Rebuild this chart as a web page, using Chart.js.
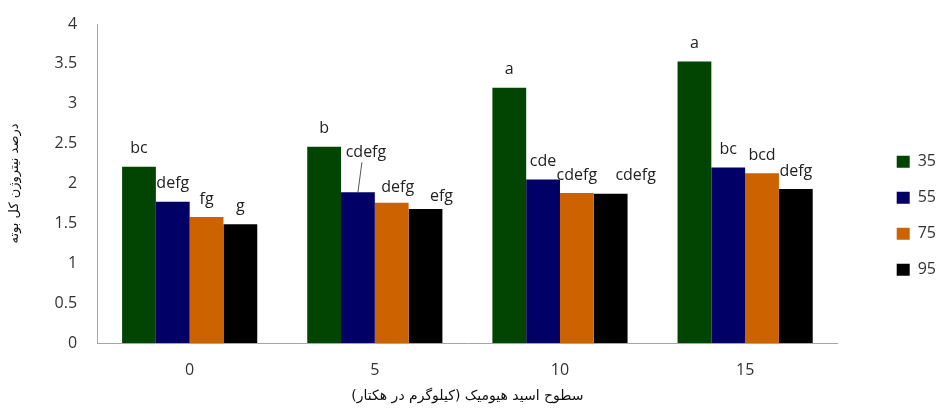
<!DOCTYPE html>
<html>
<head>
<meta charset="utf-8">
<script src="https://cdn.jsdelivr.net/npm/chart.js@4.4.1/dist/chart.umd.min.js"></script>
<style>
  html, body { margin: 0; padding: 0; background: #fff; }
  #wrap { width: 939px; height: 410px; }
</style>
</head>
<body>
<div id="wrap"><canvas id="grafico"></canvas></div>
<script>
const categorias = ["0", "5", "10", "15"];
const series = ["35", "55", "75", "95"];

const valores35 = [2.21, 2.46, 3.20, 3.53];
const valores55 = [1.77, 1.89, 2.05, 2.20];
const valores75 = [1.58, 1.76, 1.88, 2.13];
const valores95 = [1.49, 1.68, 1.87, 1.93];

const letras35 = ["bc", "b", "a", "a"];
const letras55 = ["defg", "cdefg", "cde", "bc"];
const letras75 = ["fg", "defg", "cdefg", "bcd"];
const letras95 = ["g", "efg", "cdefg", "defg"];

const ticksY = [0, 0.5, 1, 1.5, 2, 2.5, 3, 3.5, 4];

const colores = ["#024402", "#000066", "#cc6200", "#000000"];
const tituloY = "درصد نیتروژن کل بوته";
const tituloX = "سطوح اسید هیومیک (کیلوگرم در هکتار)\u200F";

// a few letters sit off-centre in the original (dx, dy in px)
const desplazamientos = {
  "1-1": [8, -22, true],
  "2-1": [6, 3],
  "3-1": [16, 5],
  "3-2": [25, 0]
};

const letras = [letras35, letras55, letras75, letras95];

const pluginLetras = {
  id: "letras",
  afterDatasetsDraw(chart) {
    const ctx = chart.ctx;
    ctx.save();
    ctx.font = "16px 'Open Sans', 'DejaVu Sans', sans-serif";
    ctx.fillStyle = "#222";
    ctx.textAlign = "center";
    ctx.textBaseline = "middle";
    chart.data.datasets.forEach((ds, i) => {
      chart.getDatasetMeta(i).data.forEach((bar, j) => {
        const off = desplazamientos[i + "-" + j] || [0, 0];
        const x = bar.x + off[0];
        const y = bar.y - 18 + off[1];
        ctx.fillText(letras[i][j], x, y);
        if (off[2]) {
          ctx.strokeStyle = "#555";
          ctx.lineWidth = 1;
          ctx.beginPath();
          ctx.moveTo(x - 4, y + 10);
          ctx.lineTo(bar.x, bar.y);
          ctx.stroke();
        }
      });
    });
    ctx.restore();
  }
};

const datos = {
  labels: categorias,
  datasets: [valores35, valores55, valores75, valores95].map((v, i) => ({
    label: series[i],
    data: v,
    backgroundColor: colores[i],
    borderWidth: 0,
    barPercentage: 1,
    categoryPercentage: 0.73
  }))
};

const fuenteEje = { family: "'Open Sans', 'DejaVu Sans', sans-serif", size: 16 };

new Chart(document.getElementById("grafico"), {
  type: "bar",
  data: datos,
  plugins: [pluginLetras],
  options: {
    responsive: true,
    maintainAspectRatio: false,
    animation: false,
    layout: { padding: { top: 24, left: 7, right: -7, bottom: 5 } },
    plugins: {
      tooltip: { enabled: false },
      legend: {
        position: "right",
        title: { display: true, text: " ", font: { size: 2 }, padding: 0 },
        labels: {
          boxWidth: 13,
          boxHeight: 12,
          padding: 20,
          color: "#333",
          font: fuenteEje
        }
      }
    },
    scales: {
      x: {
        grid: { display: false, drawTicks: false },
        border: { display: true, color: "#a6a6a6", width: 1 },
        ticks: { color: "#333", font: fuenteEje, padding: 18 },
        title: {
          display: true,
          text: tituloX,
          color: "#111",
          font: { family: "'DejaVu Sans', sans-serif", size: 14 },
          padding: { top: -10, bottom: 0 }
        }
      },
      y: {
        min: 0,
        max: 4,
        afterBuildTicks(scale) {
          scale.ticks = ticksY.map(v => ({ value: v }));
        },
        afterFit(scale) {
          scale.paddingTop = 10;
          scale.paddingBottom = 10;
        },
        grid: { display: false, drawTicks: false },
        border: { display: true, color: "#a6a6a6", width: 1 },
        ticks: {
          color: "#333",
          font: fuenteEje,
          padding: 20,
          callback: v => String(v)
        },
        title: {
          display: true,
          text: tituloY,
          color: "#111",
          font: { family: "'DejaVu Sans', sans-serif", size: 13 },
          padding: { top: 0, bottom: 12 }
        }
      },
      // empty right-hand gap between the plot and the legend
      hueco: {
        position: "right",
        display: true,
        min: 0,
        max: 4,
        grid: { display: false, drawTicks: false },
        border: { display: false },
        ticks: { display: false },
        afterFit(scale) { scale.width = 39; }
      }
    }
  }
});
</script>
</body>
</html>
